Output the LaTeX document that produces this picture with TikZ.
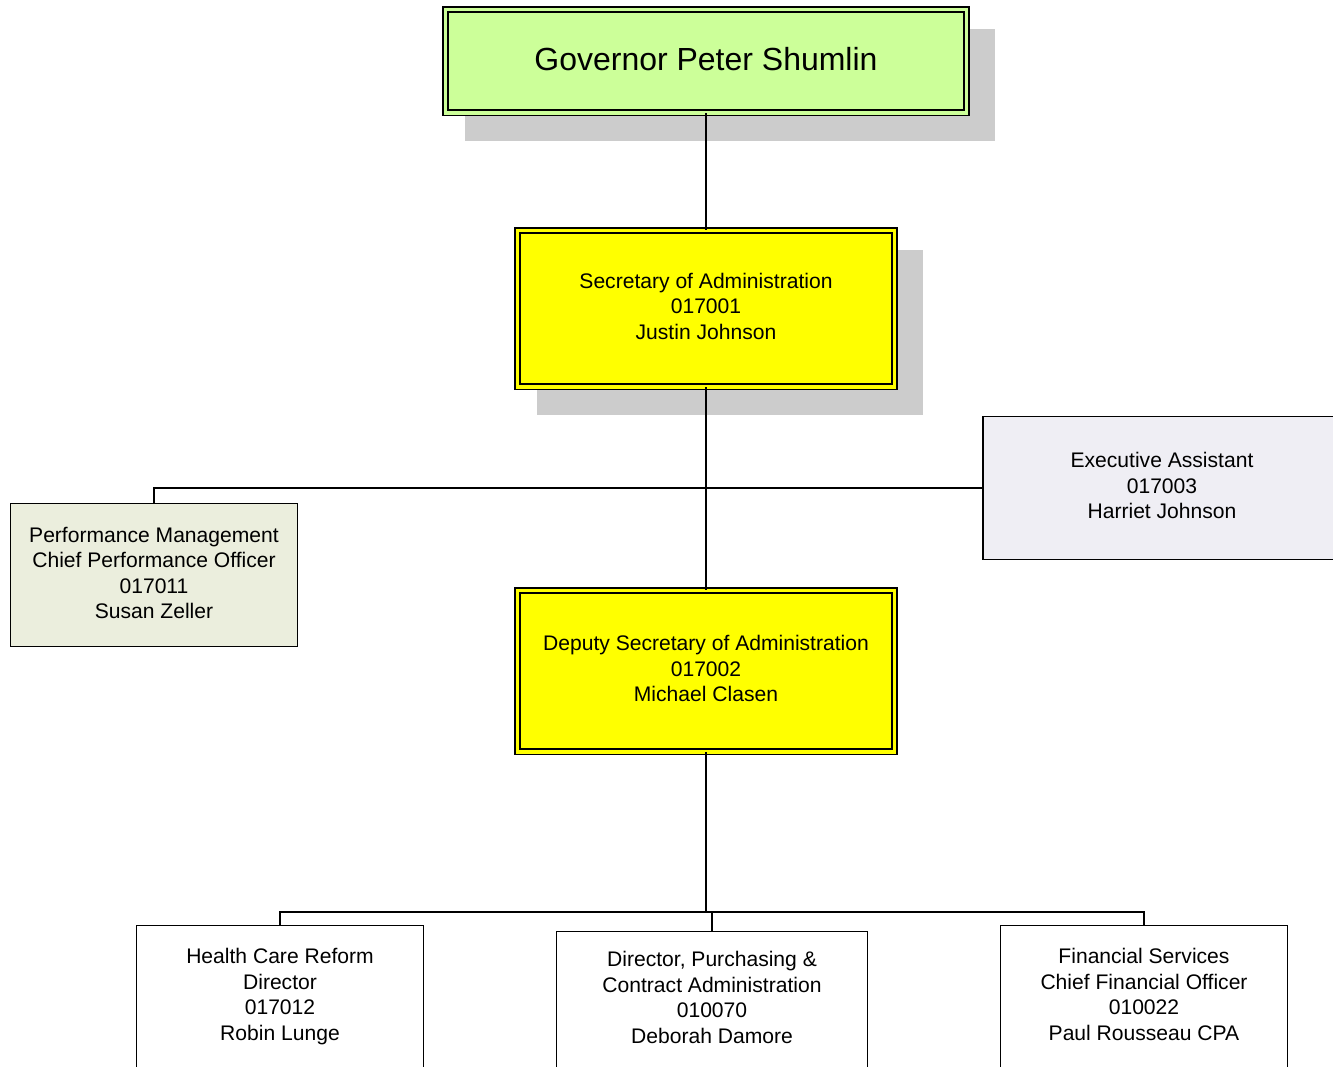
\documentclass[tikz,border=0pt]{standalone}
\usepackage{fontspec}
\setmainfont{Liberation Sans}
\usetikzlibrary{shapes}
\usetikzlibrary{backgrounds}
\usetikzlibrary{positioning}
\definecolor{govgreen}{HTML}{CCFF99}
\definecolor{secyellow}{HTML}{FFFF00}
\definecolor{assistgray}{HTML}{EFEEF4}
\definecolor{perfgreen}{HTML}{EBEEDD}
\definecolor{shadowgray}{HTML}{CCCCCC}
\begin{document}
\begin{tikzpicture}[x=0.02cm,y=-0.02cm,
  box/.style={draw,line width=0.85pt,align=center,inner sep=0pt,
    font=\fontsize{12}{14.5}\selectfont,
    execute at end node={\rule[-2.5pt]{0pt}{2.5pt}}},
  dbox/.style={box,double distance=2pt},
  link/.style={line width=0.85pt}]
\useasboundingbox (0,0) rectangle (1333,1066);
\clip (0,0) rectangle (1333,1066);
\node[dbox,fill=govgreen,double=govgreen,minimum width=10.43cm,minimum height=2.07cm,
  font=\fontsize{18.2}{22}\selectfont] (gov) at (706,61) {Governor Peter Shumlin};
\node[dbox,fill=secyellow,double=secyellow,minimum width=7.55cm,minimum height=3.13cm]
  (sec) at (706,308.5) {Secretary of Administration\\017001\\Justin Johnson};
\node[dbox,fill=secyellow,double=secyellow,minimum width=7.55cm,minimum height=3.23cm]
  (dep) at (706,671) {Deputy Secretary of Administration\\017002\\Michael Clasen};
\node[box,fill=assistgray,minimum width=7.16cm,minimum height=2.86cm]
  (assist) at (1162,488) {Executive Assistant\\017003\\Harriet Johnson};
\node[box,fill=perfgreen,minimum width=5.74cm,minimum height=2.86cm]
  (perf) at (154,575) {Performance Management\\Chief Performance Officer\\017011\\Susan Zeller};
\node[box,fill=white,anchor=north,minimum width=5.74cm,minimum height=2.845cm]
  (health) at (280,924.75) {Health Care Reform\\Director\\017012\\Robin Lunge};
\node[box,fill=white,anchor=north,minimum width=6.22cm,minimum height=2.725cm]
  (purch) at (712,930.75) {Director, Purchasing \&\\Contract Administration\\010070\\Deborah Damore};
\node[box,fill=white,anchor=north,minimum width=5.74cm,minimum height=2.845cm]
  (fin) at (1144,924.75) {Financial Services\\Chief Financial Officer\\010022\\Paul Rousseau CPA};
\begin{scope}[on background layer]
\fill[shadowgray] ([shift={(20,20)}]gov.north west) rectangle ([shift={(28,28)}]gov.south east);
\fill[shadowgray] ([shift={(20,20)}]sec.north west) rectangle ([shift={(28,28)}]sec.south east);
\end{scope}
\coordinate (bus) at (706,912);
\draw[link] (gov.south) -- (sec.north);
\draw[link] (sec.south) -- (dep.north);
\draw[link] (perf.north) |- (assist.west);
\draw[link] (dep.south) -- (bus);
\draw[link] (health.north) |- (bus) -| (fin.north);
\draw[link] (bus) -| (purch.north);
\end{tikzpicture}
\end{document}
